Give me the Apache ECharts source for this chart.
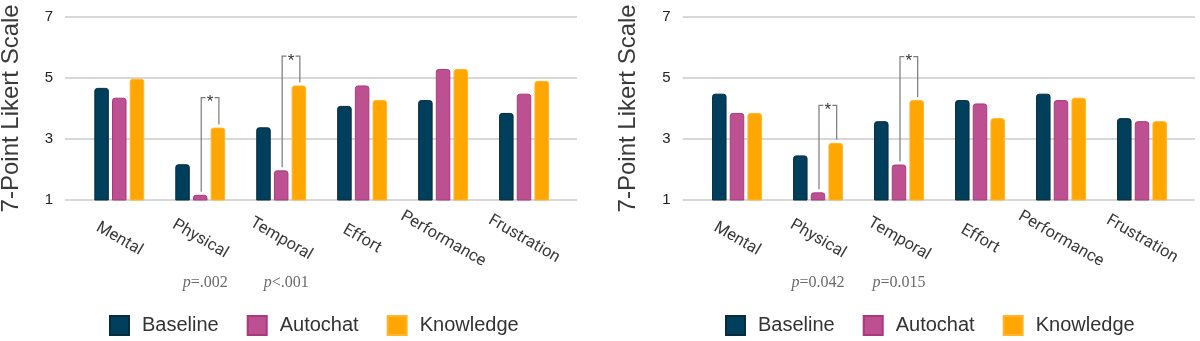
<!DOCTYPE html>
<html>
<head>
<meta charset="utf-8">
<script src="https://cdn.jsdelivr.net/npm/echarts@6/dist/echarts.min.js"></script>
<style>
  html, body { margin: 0; padding: 0; background: #fff; }
  #chart { width: 1200px; height: 341px; }
</style>
</head>
<body>
<div id="chart"></div>
<script>
const categories = ['Mental', 'Physical', 'Temporal', 'Effort', 'Performance', 'Frustration'];

// left panel
const baselineL = [4.67, 2.17, 3.38, 4.08, 4.27, 3.85];
const autochatL = [4.35, 1.17, 1.97, 4.75, 5.29, 4.48];
const knowledgeL = [4.97, 3.37, 4.75, 4.27, 5.29, 4.9];
const sigCatsL = ['Physical', 'Temporal'];
const sigTopL = [4.35, 5.71];
const pLabelsL = ['=.002', '<.001'];

// right panel
const baselineR = [4.48, 2.46, 3.58, 4.27, 4.48, 3.68];
const autochatR = [3.85, 1.25, 2.16, 4.16, 4.27, 3.58];
const knowledgeR = [3.85, 2.87, 4.27, 3.68, 4.35, 3.58];
const sigCatsR = ['Physical', 'Temporal'];
const sigTopR = [4.1, 5.69];
const pLabelsR = ['=0.042', '=0.015'];

const names = ['Baseline', 'Autochat', 'Knowledge'];
const colors = ['#003f5c', '#bc5090', '#ffa600'];
const borders = ['#0a2a40', '#a83a7c', '#ffb52e'];

const BAR_W = 14.5;
const BAR_GAP = 0.22;
const PITCH = BAR_W * (1 + BAR_GAP);
const TOP = 16.7;
const BOTTOM = 141;

const chart = echarts.init(document.getElementById('chart'));

function bgGrid(left, width) {
  return { left, width, top: TOP, bottom: BOTTOM, outerBoundsMode: 'none' };
}

function sigRenderer(autochat, knowledge, pLabels, pShift) {
  return function (params, api) {
    const ci = api.value(0);
    const top = api.value(1);
    const p0 = api.coord([ci, top]);
    const xa = p0[0] + 1;
    const xk = xa + PITCH;
    const yTop = p0[1];
    const ya = api.coord([ci, autochat[ci]])[1] - 3;
    const yk = api.coord([ci, knowledge[ci]])[1] - 3;
    const xm = (xa + xk) / 2;
    const base = api.coord([ci, 1]);
    const line = { stroke: '#7a7a7a', lineWidth: 1.2, fill: null };
    return {
      type: 'group',
      children: [
        { type: 'polyline', shape: { points: [[xa, ya], [xa, yTop], [xm - 4.5, yTop]] }, style: line },
        { type: 'polyline', shape: { points: [[xm + 4.5, yTop], [xk, yTop], [xk, yk]] }, style: line },
        {
          type: 'text',
          style: { text: '*', x: xm, y: yTop + 5, align: 'center', verticalAlign: 'middle', font: '17px "Liberation Sans"', fill: '#333' }
        },
        {
          type: 'text',
          style: {
            text: '{i|p}{n|' + pLabels[params.dataIndex] + '}',
            x: base[0] + pShift,
            y: base[1] + 83,
            align: 'center',
            verticalAlign: 'middle',
            fill: '#6a6a6a',
            rich: {
              i: { fontFamily: '"Liberation Serif"', fontStyle: 'italic', fontSize: 16, fill: '#6a6a6a' },
              n: { fontFamily: '"Liberation Serif"', fontSize: 16, fill: '#6a6a6a' }
            }
          }
        }
      ]
    };
  };
}

function barSeries(data, k, axisIdx) {
  return {
    name: names[k],
    type: 'bar',
    xAxisIndex: axisIdx,
    yAxisIndex: axisIdx,
    barWidth: BAR_W,
    barGap: (BAR_GAP * 100) + '%',
    itemStyle: { color: colors[k], borderColor: borders[k], borderWidth: 1, borderRadius: [2.5, 2.5, 0, 0] },
    emphasis: { disabled: true },
    data
  };
}

const yBg = (nameGap) => ({
  type: 'value', min: 1, max: 7, interval: 2,
  axisLine: { show: false }, axisTick: { show: false },
  axisLabel: { color: '#222', fontSize: 15, fontFamily: '"Liberation Sans"', margin: 12 },
  splitLine: { lineStyle: { color: '#d8d8d8', width: 2 } },
  name: '7-Point Likert Scale',
  nameLocation: 'middle',
  nameGap,
  nameTextStyle: { fontSize: 24, color: '#3a3a3a', fontFamily: '"Liberation Sans"' }
});

const yBar = () => ({ type: 'value', min: 1, max: 7, interval: 2, show: false, splitLine: { show: false } });

const xBar = () => ({
  type: 'category',
  data: categories,
  axisLine: { show: false },
  axisTick: { show: false },
  axisLabel: {
    interval: 0, rotate: -30, margin: 39,
    align: 'center', verticalAlign: 'middle',
    fontSize: 16.5, fontFamily: 'Roboto', color: '#3a3a3a'
  }
});

const legendOf = (left) => ({
  left, top: 315, padding: 0,
  itemWidth: 19, itemHeight: 19, itemGap: 28,
  icon: 'rect',
  data: names,
  textStyle: { fontSize: 20, fontFamily: '"Liberation Sans"', color: '#333', padding: [0, 0, 0, 8] },
  selectedMode: false
});

chart.setOption({
  animation: false,
  grid: [
    bgGrid(65, 512),
    { left: 78.8, width: 485.7, top: TOP, bottom: BOTTOM, outerBoundsMode: 'none' },
    bgGrid(682.7, 512.3),
    { left: 696.5, width: 486, top: TOP, bottom: BOTTOM, outerBoundsMode: 'none' }
  ],
  xAxis: [
    { type: 'value', gridIndex: 0, show: false },
    Object.assign(xBar(), { gridIndex: 1 }),
    { type: 'value', gridIndex: 2, show: false },
    Object.assign(xBar(), { gridIndex: 3 })
  ],
  yAxis: [
    Object.assign(yBg(42), { gridIndex: 0 }),
    Object.assign(yBar(), { gridIndex: 1 }),
    Object.assign(yBg(42), { gridIndex: 2 }),
    Object.assign(yBar(), { gridIndex: 3 })
  ],
  legend: [legendOf(109), legendOf(725)],
  tooltip: { show: false },
  series: [
    barSeries(baselineL, 0, 1),
    barSeries(autochatL, 1, 1),
    barSeries(knowledgeL, 2, 1),
    barSeries(baselineR, 0, 3),
    barSeries(autochatR, 1, 3),
    barSeries(knowledgeR, 2, 3),
    {
      type: 'custom', xAxisIndex: 1, yAxisIndex: 1, clip: false, silent: true,
      renderItem: sigRenderer(autochatL, knowledgeL, pLabelsL, 5),
      data: sigCatsL.map((c, i) => [c, sigTopL[i]])
    },
    {
      type: 'custom', xAxisIndex: 3, yAxisIndex: 3, clip: false, silent: true,
      renderItem: sigRenderer(autochatR, knowledgeR, pLabelsR, 0),
      data: sigCatsR.map((c, i) => [c, sigTopR[i]])
    }
  ]
});
</script>
</body>
</html>
